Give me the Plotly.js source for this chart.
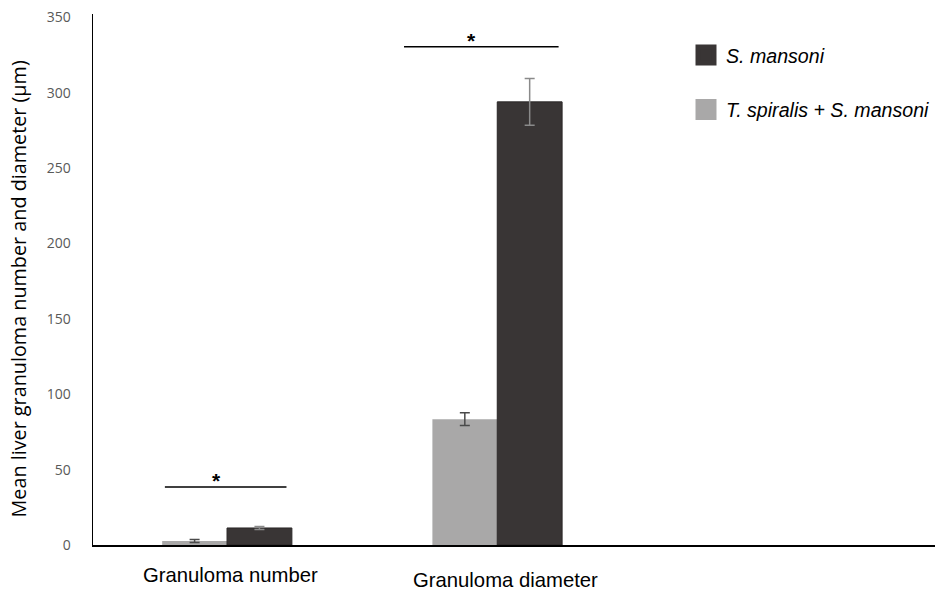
<!DOCTYPE html>
<html>
<head>
<meta charset="utf-8">
<script src="https://cdn.plot.ly/plotly-3.0.1.min.js"></script>
<style>html,body{margin:0;padding:0;background:#fff;}#chart{width:935px;height:596px;}</style>
</head>
<body>
<div id="chart"></div>
<script>
const categories = ["Granuloma number", "Granuloma diameter"];
const seriesNames = ["T. spiralis + S. mansoni", "S. mansoni"];
const seriesColors = ["#a9a8a8", "#393535"];
const coinfectedMean = [2.7, 83.5];
const coinfectedErr = [1.0, 4.2];
const mansoniMean = [11.3, 294];
const mansoniErr = [1.0, 15.5];
const yTicks = [0, 50, 100, 150, 200, 250, 300, 350];
const yTitle = "Mean liver granuloma number and diameter (μm)";
// significance brackets: offsets from category centre, y level, star offset
const sigStart = [-0.23, -0.345];
const sigEnd = [0.22, 0.227];
const sigLevel = [38.5, 330.5];
const sigStarX = [-0.04, -0.097];

const xIdx = categories.map((c, i) => i);

const traces = [
  {
    type: "bar", name: seriesNames[0], x: xIdx, y: coinfectedMean,
    marker: {color: seriesColors[0]},
    error_y: {type: "data", array: coinfectedErr, visible: true, color: "#4a4a4a", thickness: 1.5, width: 5},
    showlegend: false, hoverinfo: "none"
  },
  {
    type: "bar", name: seriesNames[1], x: xIdx, y: mansoniMean,
    marker: {color: seriesColors[1], line: {color: "#2a2727", width: 1}},
    error_y: {type: "data", array: mansoniErr, visible: true, color: "#8a8a8a", thickness: 1.5, width: 5},
    showlegend: false, hoverinfo: "none"
  },
  // legend keys (larger squares than the built-in bar legend symbol)
  {
    type: "scatter", mode: "markers", name: seriesNames[1], x: [null], y: [null],
    marker: {symbol: "square", size: 16, color: seriesColors[1], line: {color: seriesColors[1], width: 5}},
    legendgroup: "a", hoverinfo: "none"
  },
  {
    type: "scatter", mode: "markers", name: seriesNames[0], x: [null], y: [null],
    marker: {symbol: "square", size: 16, color: seriesColors[0], line: {color: seriesColors[0], width: 5}},
    legendgroup: "b", hoverinfo: "none"
  }
];

const shapes = sigLevel.map((lv, i) => ({
  type: "line", xref: "x", yref: "y", x0: xIdx[i] + sigStart[i], x1: xIdx[i] + sigEnd[i], y0: lv, y1: lv,
  line: {color: "#000", width: 1.5}
}));

const annotations = sigLevel.map((lv, i) => ({
  xref: "x", yref: "y", x: xIdx[i] + sigStarX[i], y: lv, text: "<b>*</b>", showarrow: false,
  yanchor: "bottom", yshift: -7, font: {family: "Liberation Sans, Arial", size: 21, color: "#000"}
})).concat(categories.map((c, i) => ({
  xref: "x", yref: "paper", x: i, y: 0, text: c, showarrow: false,
  yanchor: "top", yshift: i === 0 ? -17 : -22, xshift: i === 0 ? 3 : 8,
  font: {family: "Liberation Sans, Arial", size: 20.3, color: "#000"}
}))).concat([{
  xref: "paper", yref: "paper", x: 0, y: 0.5, xshift: -75, yshift: -10,
  text: yTitle, textangle: -90, showarrow: false, xanchor: "center", yanchor: "middle",
  font: {family: "Open Sans, Noto Sans", size: 19.8, color: "#000"}
}]);

const layout = {
  width: 935, height: 596,
  margin: {l: 93, r: 0, t: 14, b: 51},
  paper_bgcolor: "#fff", plot_bgcolor: "#fff",
  barmode: "group", bargap: 0.52, bargroupgap: 0,
  showlegend: true,
  legend: {
    x: 0.7045, y: 0.959, xanchor: "left", yanchor: "top",
    traceorder: "grouped", tracegroupgap: 26,
    font: {family: "Liberation Sans, Arial", size: 19.6, color: "#000", style: "italic"},
    itemwidth: 30, bgcolor: "rgba(0,0,0,0)"
  },
  xaxis: {
    range: [-0.496, 2.62], showticklabels: false, ticks: "",
    showline: true, linecolor: "#000", linewidth: 1.5, showgrid: false, zeroline: false
  },
  yaxis: {
    range: [0, 352.3], tickvals: yTicks, ticktext: yTicks.map(String),
    showline: true, linecolor: "#000", linewidth: 1.5, showgrid: false, zeroline: false,
    ticks: "", ticklabelstandoff: 18,
    tickfont: {family: "Open Sans, Noto Sans", size: 14, color: "#595959"}
  },
  shapes: shapes,
  annotations: annotations
};

Plotly.newPlot("chart", traces, layout, {displayModeBar: false, staticPlot: true});
</script>
</body>
</html>
